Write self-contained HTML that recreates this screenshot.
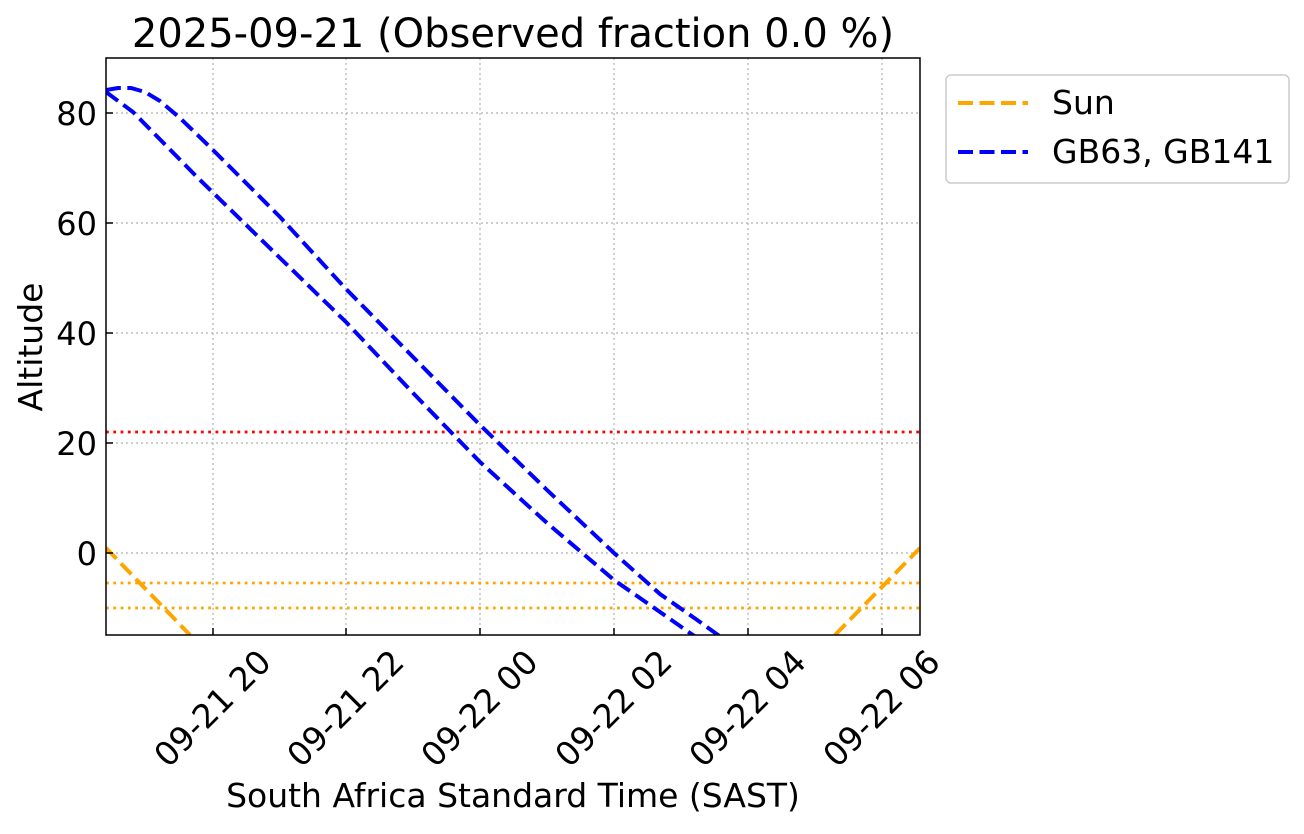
<!DOCTYPE html>
<html><head><style>body{margin:0;background:#fff}</style></head><body>
<svg width="1304" height="829" xmlns="http://www.w3.org/2000/svg" font-family="DejaVu Sans, sans-serif">
<rect width="1304" height="829" fill="#fff"/>
<g stroke="#b0b0b0" stroke-width="1.2" stroke-dasharray="2,3">
<line x1="213" y1="58" x2="213" y2="635"/><line x1="346" y1="58" x2="346" y2="635"/><line x1="480" y1="58" x2="480" y2="635"/><line x1="614" y1="58" x2="614" y2="635"/><line x1="748" y1="58" x2="748" y2="635"/><line x1="882" y1="58" x2="882" y2="635"/>
<line x1="106" y1="113" x2="920" y2="113"/><line x1="106" y1="223" x2="920" y2="223"/><line x1="106" y1="333" x2="920" y2="333"/><line x1="106" y1="443" x2="920" y2="443"/><line x1="106" y1="553" x2="920" y2="553"/>
</g>
<g stroke-width="2.8" stroke-dasharray="2.8,4.5" fill="none">
<line x1="106" y1="432" x2="920" y2="432" stroke="red"/>
<line x1="106" y1="583" x2="920" y2="583" stroke="orange"/>
<line x1="106" y1="608" x2="920" y2="608" stroke="orange"/>
</g>
<svg x="106" y="58" width="814" height="577" viewBox="106 58 814 577">
<g fill="none" stroke-width="4" stroke-dasharray="15,6.5">
<polyline stroke="orange" points="106,548 190,635"/>
<polyline stroke="orange" points="835,635 920,548"/>
<polyline stroke="blue" points="106,90 118,88 131,88 145,92 160,101 180,118 213,150 280,217 346,289 413,357 480,425 547,490 614,553 660,594 700,622 725,640"/>
<polyline stroke="blue" points="106,92 133,112 197,177 280,258 346,322 413,393 480,462 547,523 614,580 660,612 700,640"/>
</g>
</svg>
<rect x="106" y="58" width="814" height="577" fill="none" stroke="#000" stroke-width="1.5"/>
<g stroke="#000" stroke-width="1.5">
<line x1="213" y1="635" x2="213" y2="628"/><line x1="346" y1="635" x2="346" y2="628"/><line x1="480" y1="635" x2="480" y2="628"/><line x1="614" y1="635" x2="614" y2="628"/><line x1="748" y1="635" x2="748" y2="628"/><line x1="882" y1="635" x2="882" y2="628"/>
<line x1="106" y1="113" x2="113" y2="113"/><line x1="106" y1="223" x2="113" y2="223"/><line x1="106" y1="333" x2="113" y2="333"/><line x1="106" y1="443" x2="113" y2="443"/><line x1="106" y1="553" x2="113" y2="553"/>
</g>
<g font-size="32" text-anchor="end">
<text x="97" y="125">80</text><text x="97" y="235">60</text><text x="97" y="345">40</text><text x="97" y="455">20</text><text x="97" y="565">0</text>
</g>
<g font-size="33" text-anchor="end">
<text transform="translate(273,664) rotate(-45)">09-21 20</text>
<text transform="translate(406,664) rotate(-45)">09-21 22</text>
<text transform="translate(540,664) rotate(-45)">09-22 00</text>
<text transform="translate(674,664) rotate(-45)">09-22 02</text>
<text transform="translate(808,664) rotate(-45)">09-22 04</text>
<text transform="translate(942,664) rotate(-45)">09-22 06</text>
</g>
<text x="513" y="807" font-size="33" text-anchor="middle">South Africa Standard Time (SAST)</text>
<text transform="translate(42,347) rotate(-90)" font-size="33" text-anchor="middle">Altitude</text>
<text x="513" y="47" font-size="40" text-anchor="middle">2025-09-21 (Observed fraction 0.0 %)</text>
<rect x="946" y="75" width="343" height="108" rx="5" fill="#fff" stroke="#ccc" stroke-width="1.5"/>
<line x1="958" y1="103" x2="1028" y2="103" stroke="orange" stroke-width="4" stroke-dasharray="15,6.5"/>
<line x1="958" y1="152" x2="1028" y2="152" stroke="blue" stroke-width="4" stroke-dasharray="15,6.5"/>
<text x="1052" y="114" font-size="33">Sun</text>
<text x="1052" y="163" font-size="33">GB63, GB141</text>
</svg>
</body></html>
